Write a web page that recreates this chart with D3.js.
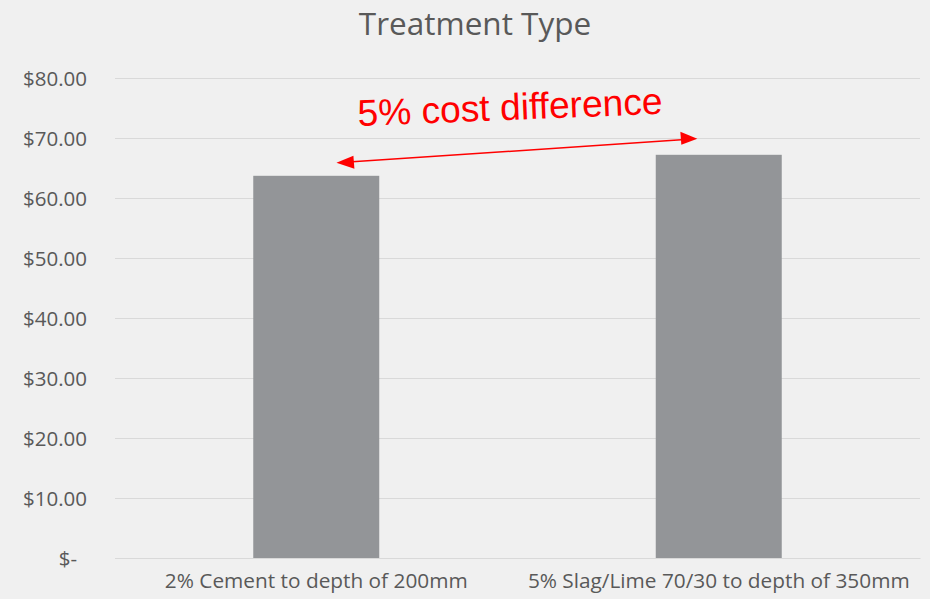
<!DOCTYPE html>
<html><head><meta charset="utf-8">
<script src="https://cdn.jsdelivr.net/npm/d3@7"></script>
<style>
html,body{margin:0;padding:0;background:#f0f0f0;}
svg{display:block;}
text{font-family:"Open Sans",sans-serif;}
</style></head>
<body><svg id="chart" width="930" height="599"></svg>
<script>
const categories = ["2% Cement to depth of 200mm", "5% Slag/Lime 70/30 to depth of 350mm"];
const values = [63.7, 67.2];
const tickValues = [0, 10, 20, 30, 40, 50, 60, 70, 80];
const tickLabels = ["$-", "$10.00", "$20.00", "$30.00", "$40.00", "$50.00", "$60.00", "$70.00", "$80.00"];
const title = "Treatment Type";
const annotation = "5% cost difference";

const W = 930, H = 599;
const m = {left:115, right:10, top:78, bottom:41};
const svg = d3.select("#chart");
svg.append("rect").attr("width", W).attr("height", H).attr("fill", "#f0f0f0");

const x = d3.scaleBand().domain(categories).range([m.left, W - m.right]).paddingInner(0.687).paddingOuter(0.3435);
const y = d3.scaleLinear().domain([0, 80]).range([H - m.bottom, m.top]);

// gridlines
const yAxis = d3.axisLeft(y).tickValues(tickValues).tickSize(-(W - m.right - m.left))
  .tickFormat((d, i) => tickLabels[i]);
const gy = svg.append("g").attr("transform", `translate(${m.left},0)`).call(yAxis);
gy.select(".domain").remove();
gy.selectAll(".tick line").attr("stroke", "#d9d9d9").attr("stroke-width", 1);
gy.selectAll(".tick text").attr("fill", "#595959").style("font-size", "20.5px")
  .attr("x", -28).attr("dy", "0.35em")
  .filter(d => d === 0).attr("x", -38);

// bars
svg.append("g").selectAll("rect").data(values).join("rect")
  .attr("x", (d, i) => x(categories[i]))
  .attr("width", x.bandwidth())
  .attr("y", d => y(d))
  .attr("height", d => y(0) - y(d))
  .attr("fill", "#939598");

// x axis
const xAxis = d3.axisBottom(x).tickSize(0);
const gx = svg.append("g").attr("transform", `translate(0,${y(0)})`).call(xAxis);
gx.select(".domain").attr("stroke", "#d9d9d9");
gx.selectAll(".tick text").attr("fill", "#595959").style("font-size", "20.8px").attr("y", 30).attr("dy", "0");

// title
svg.append("text").attr("x", 475).attr("y", 35).attr("text-anchor", "middle")
  .attr("fill", "#595959").style("font-size", "31.5px").text(title);

// annotation arrow anchored to data: slightly above each bar
const x0 = x(categories[0]) + x.bandwidth() * 0.66, y0 = y(values[0]) - 13;
const x1 = x(categories[1]) + x.bandwidth() * 0.33, y1 = y(values[1]) - 16;
svg.append("line").attr("x1", x0 + 16).attr("y1", y0 - 1).attr("x2", x1 - 16).attr("y2", y1 + 1)
  .attr("stroke", "#ff0000").attr("stroke-width", 1.5);
svg.append("path").attr("d", `M${x0},${y0} l17,-7 l1,13 Z`).attr("fill", "#ff0000");
svg.append("path").attr("d", `M${x1},${y1} l-17,-7 l1,13 Z`).attr("fill", "#ff0000");

svg.append("text").attr("transform", "translate(358,126) rotate(-2.3)")
  .attr("fill", "#ff0000").style("font-family", "'Liberation Sans', Arial, sans-serif")
  .style("font-size", "37.2px").text(annotation);
</script></body></html>
